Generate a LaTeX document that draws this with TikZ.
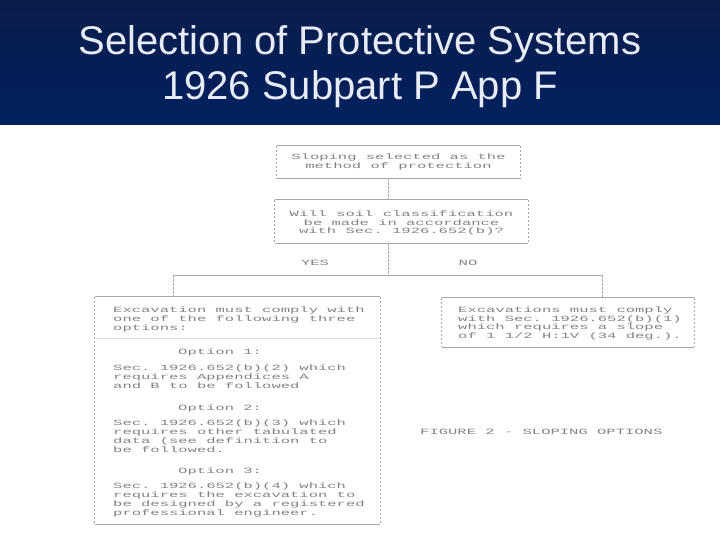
\documentclass[tikz,border=0pt]{standalone}
\usepackage{fontspec}
\setmainfont{Liberation Sans}
\setmonofont{Liberation Mono}
\usepackage{graphicx}
\definecolor{navytop}{HTML}{0B1C4A}
\definecolor{navybot}{HTML}{00215F}
\definecolor{titletxt}{HTML}{E8EAF6}
\definecolor{inkgray}{HTML}{828282}
\definecolor{linegray}{HTML}{A8A8A8}
\newcommand{\tline}[1]{\scalebox{1.94}[1]{#1}}
\newcommand{\scanfont}{\ttfamily\fontsize{8}{8.8}\selectfont\lineskiplimit=-20pt\relax\lineskip=0pt\relax}
\newcommand{\asciibox}[1]{%
  \draw[hline] (#1.north west) -- (#1.north east);
  \draw[hline] (#1.south west) -- (#1.south east);
  \draw[vline] (#1.north west) -- (#1.south west);
  \draw[vline] (#1.north east) -- (#1.south east);}
\begin{document}
\begin{tikzpicture}[x=1pt,y=-1pt,
  hline/.style={draw=linegray, line width=0.7pt},
  vline/.style={draw=linegray, line width=0.7pt, dash pattern=on 2.5pt off 1.5pt},
  scan/.style={inner sep=0pt, text=inkgray, font=\scanfont, align=left},
  boxarea/.style={draw=none, inner sep=0pt},
  titletext/.style={text=titletxt, font=\fontsize{40}{45}\selectfont, inner sep=0pt, anchor=base}]
\useasboundingbox (0,0) rectangle (720,540);
\fill[white] (0,0) rectangle (720,540);
\fill[top color=navytop, bottom color=navybot] (0,0) rectangle (720,125);
\node[titletext] (title1) at (360,55) {Selection of Protective Systems};
\node[titletext] (title2) at (360,100) {1926 Subpart P App F};

% boxes
\node[boxarea, minimum width=243pt, minimum height=32pt] (b1) at (398.5,162) {};
\node[boxarea, minimum width=253pt, minimum height=43pt] (b2) at (401.5,221.5) {};
\node[boxarea, minimum width=285pt, minimum height=227pt] (lb) at (237.5,410.5) {};
\node[boxarea, minimum width=252pt, minimum height=49pt] (rb) at (568,322.5) {};
\asciibox{b1}
\asciibox{b2}
\asciibox{lb}
\asciibox{rb}
\draw[draw=linegray!35, line width=0.6pt] (lb.west |- 0,338) -- (lb.east |- 0,338);

% texts
\node[scan, align=center] (t1) at (b1.center) {\tline{Sloping selected as the}\\\tline{method of protection}};
\node[scan, align=center] (t2) at (401.5,223) {\tline{Will soil classification}\\\tline{be made in accordance}\\\tline{with Sec. 1926.652(b)?}};
\node[scan] (yes) at (315,263) {\tline{YES}};
\node[scan] (no) at (468,263) {\tline{NO}};

\node[scan, anchor=west] (la) at (113,319.5) {\tline{Excavation must comply with}\\\tline{one of the following three}\\\tline{options:}};
\node[scan, anchor=west] (o1) at (178,352) {\tline{Option 1:}};
\node[scan, anchor=west] (lbb) at (113,376.5) {\tline{Sec. 1926.652(b)(2) which}\\\tline{requires Appendices A}\\\tline{and B to be followed}};
\node[scan, anchor=west] (o2) at (178,408) {\tline{Option 2:}};
\node[scan, anchor=west] (lc) at (113,436) {\tline{Sec. 1926.652(b)(3) which}\\\tline{requires other tabulated}\\\tline{data (see definition to}\\\tline{be followed.}};
\node[scan, anchor=west] (o3) at (178,471) {\tline{Option 3:}};
\node[scan, anchor=west] (ld) at (113,500) {\tline{Sec. 1926.652(b)(4) which}\\\tline{requires the excavation to}\\\tline{be designed by a registered}\\\tline{professional engineer.}};
\node[scan, anchor=west] (ra) at (458,323.5) {\tline{Excavations must comply}\\\tline{with Sec. 1926.652(b)(1)}\\\tline{which requires a slope}\\\tline{of 1 1/2 H:1V (34 deg.).}};
\node[scan, anchor=west] (cap) at (420,432) {\tline{FIGURE 2 - SLOPING OPTIONS}};

% connectors
\coordinate (split) at (388,275);
\coordinate (lj) at (173,275);
\coordinate (rj) at (602,275);
\draw[vline] (b1.south -| split) -- (b2.north -| split);
\draw[vline] (b2.south -| split) -- (split);
\draw[hline] (lj) -- (rj);
\draw[vline] (lj) -- (lj |- lb.north);
\draw[vline] (rj) -- (rj |- rb.north);
\end{tikzpicture}
\end{document}
